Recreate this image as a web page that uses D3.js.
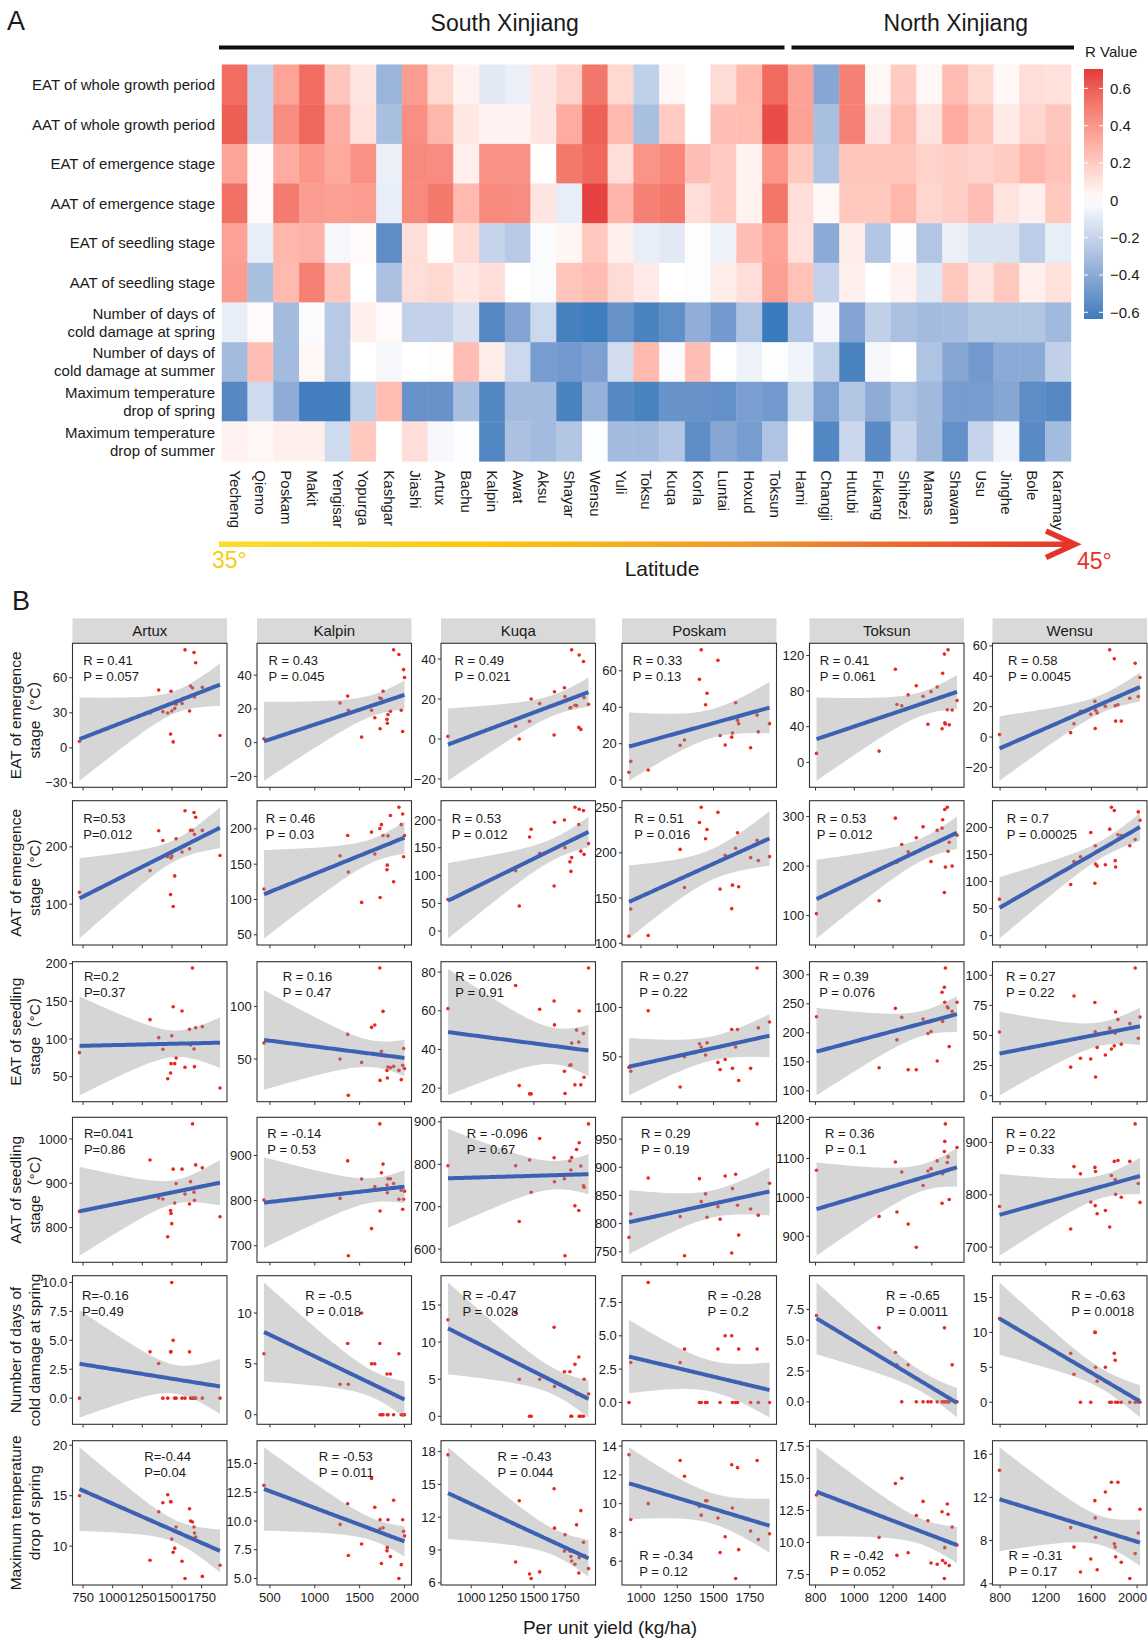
<!DOCTYPE html>
<html>
<head>
<meta charset="utf-8">
<script src="https://cdn.jsdelivr.net/npm/d3@7"></script>
<style>
  body { margin: 0; background: #fff; }
  svg { display: block; }
  text { font-family: "Liberation Sans", Arial, "Noto Sans CJK SC", sans-serif; fill: #1a1a1a; }
</style>
</head>
<body>
<svg id="fig" width="1148" height="1640"></svg>
<script>
// ================= Panel A data: correlation (R) of yield with climate indices =================
const sites = ["Yecheng","Qiemo","Poskam","Makit","Yengisar","Yopurga","Kashgar","Jiashi","Artux","Bachu",
  "Kalpin","Awat","Aksu","Shayar","Wensu","Yuli","Toksu","Kuqa","Korla","Luntai","Hoxud","Toksun",
  "Hami","Changji","Hutubi","Fukang","Shihezi","Manas","Shawan","Usu","Jinghe","Bole","Karamay"];

const traitLabels = [
  ["EAT of whole growth period"],
  ["AAT of whole growth period"],
  ["EAT of emergence stage"],
  ["AAT of emergence stage"],
  ["EAT of seedling stage"],
  ["AAT of seedling stage"],
  ["Number of days of", "cold damage at spring"],
  ["Number of days of", "cold damage at summer"],
  ["Maximum temperature", "drop of spring"],
  ["Maximum temperature", "drop of summer"]
];

const rEatWhole     = [0.55,-0.2,0.35,0.55,0.22,0.1,-0.35,0.38,0.15,0.05,-0.1,-0.07,0.1,0.17,0.52,0.15,-0.22,0.03,0.0,0.14,0.27,0.56,0.36,-0.42,0.48,0.03,0.2,0.03,0.26,0.15,0.03,0.13,0.12];
const rAatWhole     = [0.6,-0.2,0.44,0.57,0.32,0.12,-0.3,0.43,0.28,0.09,0.05,0.05,0.1,0.32,0.59,0.27,-0.3,0.2,0.0,0.25,0.26,0.65,0.36,-0.3,0.48,0.1,0.26,0.11,0.32,0.22,0.08,0.16,0.22];
const rEatEmergence = [0.35,0.02,0.32,0.4,0.33,0.42,-0.07,0.45,0.44,0.06,0.42,0.42,0.0,0.51,0.57,0.13,0.41,0.46,0.25,0.2,0.05,0.4,0.21,-0.28,0.22,0.22,0.22,0.17,0.19,0.17,0.2,0.28,0.24];
const rAatEmergence = [0.54,0.02,0.5,0.38,0.37,0.38,-0.08,0.45,0.51,0.27,0.45,0.44,0.1,-0.08,0.68,0.29,0.48,0.51,0.13,0.2,0.05,0.52,0.13,0.03,0.21,0.21,0.28,0.16,0.19,0.25,0.11,0.06,0.21];
const rEatSeedling  = [0.36,-0.08,0.28,0.3,-0.03,0.02,-0.55,0.13,0.01,0.14,-0.2,-0.25,-0.02,0.04,0.21,0.06,-0.08,-0.1,0.01,-0.06,0.25,0.35,0.12,-0.4,0.07,-0.27,-0.01,-0.27,-0.07,-0.13,-0.13,-0.23,-0.08];
const rAatSeedling  = [0.38,-0.3,0.27,0.48,0.22,0.0,-0.29,0.13,0.15,0.09,0.13,0.0,-0.02,0.23,0.26,0.14,0.08,0.0,-0.01,0.07,0.13,0.37,0.24,-0.21,0.06,0.0,0.05,-0.11,0.21,0.1,0.21,0.06,0.12];
const rColdSpring   = [-0.08,0.02,-0.32,-0.02,-0.25,0.06,0.02,-0.21,-0.21,-0.14,-0.57,-0.43,-0.18,-0.61,-0.63,-0.52,-0.6,-0.54,-0.38,-0.48,-0.28,-0.65,-0.28,-0.03,-0.43,-0.22,-0.29,-0.32,-0.31,-0.27,-0.27,-0.27,-0.33];
const rColdSummer   = [-0.32,0.25,-0.32,0.03,-0.25,0.0,-0.03,0.0,0.01,0.25,0.07,-0.18,-0.47,-0.48,-0.45,-0.16,0.27,-0.02,0.25,0.0,-0.06,-0.01,-0.05,-0.22,-0.6,-0.03,0.0,-0.28,-0.42,-0.48,-0.4,-0.4,-0.22];
const rDropSpring   = [-0.57,-0.17,-0.39,-0.62,-0.62,-0.22,0.26,-0.52,-0.52,-0.3,-0.58,-0.32,-0.32,-0.6,-0.37,-0.57,-0.6,-0.52,-0.52,-0.53,-0.46,-0.48,-0.19,-0.44,-0.27,-0.39,-0.28,-0.33,-0.47,-0.47,-0.42,-0.55,-0.57];
const rDropSummer   = [0.05,0.03,0.06,0.06,-0.17,0.21,0.0,0.13,-0.03,-0.01,-0.58,-0.29,-0.32,-0.27,-0.01,-0.32,-0.32,-0.27,-0.55,-0.42,-0.47,-0.28,0.0,-0.58,-0.19,-0.56,-0.2,-0.33,-0.53,-0.2,-0.05,-0.56,-0.32];

const regions = [
  { name: "South Xinjiang", first: 0,  last: 21 },
  { name: "North Xinjiang", first: 22, last: 32 }
];
const legendTicks = [0.6, 0.4, 0.2, 0, -0.2, -0.4, -0.6];
const latitudeEnds = ["35°", "45°"];

// ================= Panel B data: per unit yield (kg/ha) vs climate indices =================
const stations = ["Artux", "Kalpin", "Kuqa", "Poskam", "Toksun", "Wensu"];

const yieldArtux  = [720,1315,1388,1423,1464,1488,1492,1498,1510,1523,1535,1585,1610,1648,1657,1673,1686,1690,1700,1756,1905];
const yieldKalpin = [434,1282,1367,1374,1522,1633,1669,1725,1728,1743,1761,1805,1809,1816,1843,1879,1938,1964,1980,1990,2000];
const yieldKuqa   = [815,1354,1383,1465,1478,1546,1661,1664,1743,1748,1787,1795,1801,1827,1840,1858,1861,1874,1895,1900,1935];
const yieldPoskam = [918,930,1050,1270,1300,1403,1415,1445,1455,1530,1545,1580,1625,1630,1652,1665,1673,1755,1800,1808,1885];
const yieldToksun = [805,1128,1212,1220,1245,1278,1320,1355,1380,1396,1428,1453,1456,1465,1467,1470,1480,1484,1490,1505,1530];
const yieldWensu  = [795,1418,1447,1504,1594,1630,1633,1636,1650,1722,1760,1775,1800,1808,1812,1832,1861,1936,1983,2010,2025];

// rows: EAT emergence, AAT emergence, EAT seedling, AAT seedling, cold-damage days (spring), max temperature drop (spring)
const artuxIdx = [
  [5.6,29.8,49.5,31,29.8,11.8,48.4,31.5,5.1,33.8,37.4,38,83.9,31.5,52.9,51.2,81.6,43.6,72.9,51.8,10.6],
  [120.7,158.6,228,211,182.8,116.7,180.5,184,96,149.4,214,191,263,196.6,228.7,228.7,260,221.8,251.7,228.7,185],
  [81.9,125.7,101.8,86.3,47.3,54.9,67.3,104.4,142.9,67.3,74.8,137.2,62.4,112.8,92,194.2,86.7,63.3,115,116.4,35],
  [836.3,952.6,866.7,864.4,779.3,838.5,831.9,808.9,931.9,855.6,899.3,931.9,875.6,853.3,903.7,1034,880,861.5,941.5,934.8,824.4],
  [0,4,3,0,0,4,4,10,5,0,0,0,0,4,0,0,0,0,0,0,0],
  [15.0,8.6,13.4,14.3,15.1,14.4,14.4,10.7,9.4,9.8,11.9,8.5,6.8,13.7,12.5,12.4,11.9,11.3,10.9,7.0,8.1]
];
const kalpinIdx = [
  [2.3,23.5,27.6,19.2,3.3,19.2,14.8,26.4,8.2,26,30.5,13.8,11.5,16.7,18.6,55,52.2,19.2,6.6,43.3,38.6],
  [114.8,162,190.7,138.9,95.8,195.4,164.4,200.5,102.8,206,190.7,142,148.6,190,219,125,230.6,206,221,160.6,190.7],
  [65.2,50,73.4,15.5,46.8,80.1,82.3,136.4,29.7,57.3,95.3,39.2,32,42.4,41.8,43,39.2,30.4,44,60,41],
  [801.5,805,888,678,847.8,738,831,970,777,861.8,880.9,834.6,817.6,848.5,848.5,838,803,823,781,803,821],
  [6,3,7,3,10,5,5,7,0,0,0,4,0,0,4,0,6,0,0,0,0],
  [13.1,9.7,11.5,7.0,8.0,13.7,11.2,9.3,10.1,6.3,9.4,7.4,7.7,10.1,6.9,11.8,5.0,6.2,10.1,9.1,8.7]
];
const kuqaIdx = [
  [1.3,6.4,0,8.9,20,17.7,2,23.6,25.6,21.2,15.5,15.7,44.6,16.9,16.7,5.8,42,4.8,38.8,20.7,17.4],
  [57,108.8,45.3,169.4,183.5,140,81.2,195.9,200,150,124.7,107.6,132.4,223,167,191.8,219.4,144,217,138.2,157.6],
  [61.1,73.1,21.3,17,17,60.8,65.1,52.7,28.7,17.2,31.8,32,43.3,21.7,50,43.8,59.9,21.7,48.3,25.6,82.1],
  [796.6,796.6,665,810,734,861,815.4,759,766,584.4,807.6,786.5,816,702,835,691,850.7,796,749,746,895.3],
  [13,14,5,0,0,5,12,4,6,4,6,0,0,7,3,8,0,0,0,5,3],
  [17.7,7.9,13.5,6.8,6.4,7.0,14.6,11.0,8.9,10.4,8.9,8.4,8.0,7.7,11.3,6.9,8.3,12.6,9.7,8.5,7.3]
];
const poskamIdx = [
  [4.3,10.3,5.6,19.1,22,55.3,71.5,41.4,47.7,65.8,24.5,19.3,23.6,25.9,42.5,32.8,31,17.8,35.7,26.5,31],
  [107.9,137.9,108.6,203.8,161.7,233.5,250.4,215.6,225.8,244.9,159.9,197.3,138.3,164.3,205,222.2,162.5,194.7,214,191.4,195.8],
  [39.3,35.3,96.7,19.3,50,63.3,60,51.7,64.3,44.3,37,47.3,77.7,38.3,60,77.7,26,38.3,140,79.3,85.3],
  [775.5,817.3,881,812.6,743,879.8,839,852.7,811.4,830,807.9,884.6,747.8,862.1,887.5,832.7,779.6,826,977,815,871.6],
  [0,3,9,3,4,0,0,0,0,4,0,5,5,0,0,0,4,0,4,0,0],
  [13.4,8.9,10,13,11.9,9.8,9.2,10.2,10.2,9,6.6,7.7,12.7,9.7,4.8,12.5,6.8,8.1,13,7.5,7.9]
];
const toksunIdx = [
  [10,12.6,104.5,65,63.5,75.7,86,74.2,42.8,79.4,84.6,37.7,100,121.5,44.3,43,59,126.3,42.1,58.7,69.4],
  [103.9,129.9,296.8,207.8,243.5,228.6,257.1,279.2,240.9,209.1,272.1,276.6,293.5,146.8,314.3,198,318.8,229.9,248,200,262.3],
  [227.7,139.9,242.2,187.9,226.6,136.4,136.4,223.7,198.8,202.3,151.4,269.9,219.7,278.6,252.6,311.6,245,242.8,176.3,237,252.6],
  [1069.5,951,1091,962.3,1065,931.2,871.6,1030.6,1067.8,1073.8,1093.7,984.8,1060.8,1117.9,1143.8,1188.8,1089.4,1104,994.3,1072.9,1128.3],
  [7,6,4,3,0,3,0,0,0,0,0,0,0,6,0,0,0,0,0,3,0],
  [13.7,10.4,14.6,9.0,15.0,9.2,12.1,13.2,11.7,8.4,8.3,12.4,8.6,7.2,9.6,8.4,13.0,12.2,8.2,11.2,9.8]
];
const wensuIdx = [
  [1.6,2.9,8.7,17,15,23.5,5.6,17.7,15.9,20.2,57.4,25,51.5,20.6,10.5,21.3,10.5,25.5,48.6,26.7,39.2],
  [67.5,94.5,136.8,146,190.8,96.9,166.3,132.5,128.8,131,196.9,237.4,231.3,138.7,127,186.5,185,166.3,177.9,228.8,213.5],
  [52.9,23.7,82.8,31.1,30.5,77.4,53.1,15.5,40.1,33.8,56.1,38.7,41.4,52,69.5,63.2,42.8,59.9,106,47.7,65.4],
  [777.7,734.6,853.8,840,786.2,852.3,779.2,844.6,763.8,770,738.5,836.9,863.8,829.2,800.8,865.4,795.4,863.8,935.4,821.5,785.4],
  [12,7,4,0,0,10,10,5,3,5,0,0,7,6,0,0,0,0,0,0,0],
  [14.5,9.2,7.4,5.1,6.3,11.7,10.1,8.3,5.3,12.5,10.9,13.4,7.7,7.4,6.5,13.4,6.0,4.5,6.8,8.7,10.9]
];

const indexTitles = [
  ["EAT of emergence", "stage（°C）"],
  ["AAT of emergence", "stage（°C）"],
  ["EAT of seedling", "stage（°C）"],
  ["AAT of seedling", "stage（°C）"],
  ["Number of days of", "cold damage at spring"],
  ["Maximum temperature", "drop of spring"]
];

const xTickValues = [[750,1000,1250,1500,1750],[500,1000,1500,2000],[1000,1250,1500,1750],
                     [1000,1250,1500,1750],[800,1000,1200,1400],[800,1200,1600,2000]];
const yTickValues = [
  [[-30,0,30,60],[-20,0,20,40],[-20,0,20,40],[0,20,40,60],[0,40,80,120],[-20,0,20,40,60]],
  [[100,200],[50,100,150,200],[0,50,100,150,200],[100,150,200,250],[100,200,300],[0,50,100,150,200]],
  [[50,100,150,200],[50,100],[20,40,60,80],[50,100],[100,150,200,250,300],[0,25,50,75,100]],
  [[800,900,1000],[700,800,900],[600,700,800,900],[750,800,850,900,950],[900,1000,1100,1200],[700,800,900]],
  [[0,2.5,5,7.5,10],[0,5,10],[0,5,10,15],[0,2.5,5,7.5],[0,2.5,5,7.5],[0,5,10,15]],
  [[10,15,20],[5,7.5,10,12.5,15],[6,9,12,15,18],[6,8,10,12,14],[7.5,10,12.5,15,17.5],[4,8,12,16]]
];

const statText = [
  [["R = 0.41","P = 0.057"],["R = 0.43","P = 0.045"],["R = 0.49","P = 0.021"],["R = 0.33","P = 0.13"],["R = 0.41","P = 0.061"],["R = 0.58","P = 0.0045"]],
  [["R=0.53","P=0.012"],["R = 0.46","P = 0.03"],["R = 0.53","P = 0.012"],["R = 0.51","P = 0.016"],["R = 0.53","P = 0.012"],["R = 0.7","P = 0.00025"]],
  [["R=0.2","P=0.37"],["R = 0.16","P = 0.47"],["R = 0.026","P = 0.91"],["R = 0.27","P = 0.22"],["R = 0.39","P = 0.076"],["R = 0.27","P = 0.22"]],
  [["R=0.041","P=0.86"],["R = -0.14","P = 0.53"],["R = -0.096","P = 0.67"],["R = 0.29","P = 0.19"],["R = 0.36","P = 0.1"],["R = 0.22","P = 0.33"]],
  [["R=-0.16","P=0.49"],["R = -0.5","P = 0.018"],["R = -0.47","P = 0.028"],["R = -0.28","P = 0.2"],["R = -0.65","P = 0.0011"],["R = -0.63","P = 0.0018"]],
  [["R=-0.44","P=0.04"],["R = -0.53","P = 0.011"],["R = -0.43","P = 0.044"],["R = -0.34","P = 0.12"],["R = -0.42","P = 0.052"],["R = -0.31","P = 0.17"]]
];

// ================= layout =================
const W = 1148, H = 1640;
const svg = d3.select("#fig");
svg.append("rect").attr("width", W).attr("height", H).attr("fill", "#fff");
const defs = svg.append("defs");

const FONT = 15;
const rMatrix = [rEatWhole, rAatWhole, rEatEmergence, rAatEmergence, rEatSeedling, rAatSeedling,
                 rColdSpring, rColdSummer, rDropSpring, rDropSummer];

const hm = { left: 222, right: 1071, top: 64.8, bottom: 461.3 };
const xBand = d3.scaleBand().domain(sites).range([hm.left, hm.right]);
const yBand = d3.scaleBand().domain(d3.range(traitLabels.length)).range([hm.top, hm.bottom]);
const legendDomain = [-0.636, 0.704];
const heatColor = d3.scaleLinear()
  .domain([-0.64, 0, 0.71])
  .range(["#3a7bbd", "#ffffff", "#e3363a"])
  .interpolate(d3.interpolateLab)
  .clamp(true);

// panel letter
svg.append("text").attr("x", 7).attr("y", 30).attr("font-size", 27).text("A");

// region headers with black bars
const regionLabelDx = [3, 23];
regions.forEach((g, i) => {
  const x0 = xBand(sites[g.first]), x1 = xBand(sites[g.last]) + xBand.bandwidth();
  const bx0 = i === 0 ? x0 - 3 : x0 + 3.5;
  const bx1 = i === 0 ? x1 - 3.5 : x1 + 3;
  svg.append("line").attr("x1", bx0).attr("x2", bx1).attr("y1", 47.5).attr("y2", 47.5)
    .attr("stroke", "#111").attr("stroke-width", 4);
  svg.append("text").attr("x", (bx0 + bx1) / 2 + regionLabelDx[i]).attr("y", 31)
    .attr("text-anchor", "middle").attr("font-size", 23).text(g.name);
});

// tiles
const tiles = svg.append("g");
rMatrix.forEach((vals, i) => {
  vals.forEach((v, j) => {
    tiles.append("rect")
      .attr("x", xBand(sites[j])).attr("y", yBand(i))
      .attr("width", xBand.bandwidth()).attr("height", yBand.bandwidth())
      .attr("fill", heatColor(v)).attr("stroke", heatColor(v)).attr("stroke-width", 0.4);
  });
});

// row labels
traitLabels.forEach((lines, i) => {
  const cy = yBand(i) + yBand.bandwidth() / 2;
  const t = svg.append("text").attr("text-anchor", "end").attr("font-size", FONT);
  lines.forEach((ln, k) => {
    const off = (k - (lines.length - 1) / 2) * 18;
    t.append("tspan").attr("x", 215).attr("y", cy + off).attr("dy", "0.35em").text(ln);
  });
});

// column labels (rotated, reading top to bottom)
sites.forEach(s => {
  svg.append("text")
    .attr("transform", `translate(${xBand(s) + xBand.bandwidth() / 2},${hm.bottom + 9}) rotate(90)`)
    .attr("dy", "0.35em").attr("font-size", FONT).text(s);
});

// colour bar legend
const lg = { x: 1084, w: 19, top: 69, bottom: 319 };
const legendY = d3.scaleLinear().domain(legendDomain).range([lg.bottom, lg.top]);
const cbGrad = defs.append("linearGradient").attr("id", "cbar")
  .attr("x1", 0).attr("x2", 0).attr("y1", 1).attr("y2", 0);
d3.range(0, 1.0001, 0.05).forEach(f => {
  const v = legendDomain[0] + f * (legendDomain[1] - legendDomain[0]);
  cbGrad.append("stop").attr("offset", f).attr("stop-color", heatColor(v));
});
svg.append("rect").attr("x", lg.x).attr("y", lg.top).attr("width", lg.w)
  .attr("height", lg.bottom - lg.top).attr("fill", "url(#cbar)");
svg.append("text").attr("x", 1085).attr("y", 57).attr("font-size", FONT).text("R Value");
legendTicks.forEach(v => {
  const y = legendY(v);
  svg.append("line").attr("x1", lg.x).attr("x2", lg.x + 4).attr("y1", y).attr("y2", y)
    .attr("stroke", "#fff").attr("stroke-width", 1);
  svg.append("line").attr("x1", lg.x + lg.w - 4).attr("x2", lg.x + lg.w).attr("y1", y).attr("y2", y)
    .attr("stroke", "#fff").attr("stroke-width", 1);
  svg.append("text").attr("x", 1110).attr("y", y).attr("dy", "0.35em").attr("font-size", FONT)
    .text(v === 0 ? "0" : (v < 0 ? "\u2212" : "") + Math.abs(v).toFixed(1));
});

// latitude arrow
const latGrad = defs.append("linearGradient").attr("id", "lat")
  .attr("gradientUnits", "userSpaceOnUse").attr("x1", 219).attr("x2", 1075).attr("y1", 0).attr("y2", 0);
[[0, "#f8de30"], [0.3, "#fbc80b"], [0.62, "#f0962c"], [1, "#e5352b"]].forEach(([o, c]) =>
  latGrad.append("stop").attr("offset", o).attr("stop-color", c));
svg.append("rect").attr("x", 219).attr("y", 541.5).attr("width", 852).attr("height", 5.5).attr("fill", "url(#lat)");
svg.append("path").attr("d", "M1046,531 L1075,544.2 L1046,557.5")
  .attr("fill", "none").attr("stroke", "#e5352b").attr("stroke-width", 5.5).attr("stroke-linejoin", "miter");
svg.append("text").attr("x", 212).attr("y", 568).attr("font-size", 23).style("fill", "#f5cf14").text(latitudeEnds[0]);
svg.append("text").attr("x", 1077).attr("y", 569).attr("font-size", 23).style("fill", "#e5352b").text(latitudeEnds[1]);
svg.append("text").attr("x", 662).attr("y", 576).attr("text-anchor", "middle").attr("font-size", 21).text("Latitude");

// ================= Panel B =================
svg.append("text").attr("x", 12).attr("y", 610).attr("font-size", 27).text("B");

const yieldsBy = [yieldArtux, yieldKalpin, yieldKuqa, yieldPoskam, yieldToksun, yieldWensu];
const indexBy  = [artuxIdx, kalpinIdx, kuqaIdx, poskamIdx, toksunIdx, wensuIdx];

const colX = [72.5, 257, 441, 622, 809.5, 992.5];
const panelW = 154.5;
const rowTop = [643.3, 800.7, 961.7, 1117.3, 1275.7, 1440.7];
const rowBot = [787.3, 945, 1101.7, 1262.3, 1424.3, 1585];
const stripH = 25;
// stat label anchors: [fraction across panel, fraction down panel] for the first line
const statPos = [
  [[0.069,0.121],[0.075,0.121],[0.088,0.121],[0.069,0.121],[0.067,0.121],[0.100,0.121]],
  [[0.070,0.122],[0.056,0.122],[0.069,0.122],[0.080,0.122],[0.047,0.122],[0.092,0.122]],
  [[0.074,0.102],[0.166,0.102],[0.093,0.102],[0.112,0.102],[0.063,0.102],[0.087,0.102]],
  [[0.074,0.110],[0.067,0.110],[0.166,0.110],[0.123,0.110],[0.100,0.110],[0.087,0.110]],
  [[0.062,0.135],[0.312,0.135],[0.139,0.135],[0.553,0.135],[0.495,0.135],[0.510,0.135]],
  [[0.465,0.111],[0.400,0.111],[0.366,0.111],[0.112,0.792],[0.132,0.792],[0.104,0.792]]
];

// two-sided 95% t quantile (Cornish-Fisher expansion)
function tQuant(df) {
  const z = 1.959964;
  const g1 = (z ** 3 + z) / 4;
  const g2 = (5 * z ** 5 + 16 * z ** 3 + 3 * z) / 96;
  const g3 = (3 * z ** 7 + 19 * z ** 5 + 17 * z ** 3 - 15 * z) / 384;
  return z + g1 / df + g2 / df ** 2 + g3 / df ** 3;
}

// least-squares line with 95% confidence band, evaluated over the data range
function linearSmooth(xs, ys) {
  const n = xs.length, mx = d3.mean(xs), my = d3.mean(ys);
  let sxx = 0, sxy = 0;
  xs.forEach((x, i) => { sxx += (x - mx) ** 2; sxy += (x - mx) * (ys[i] - my); });
  const b = sxy / sxx, a = my - b * mx;
  let sse = 0;
  xs.forEach((x, i) => { sse += (ys[i] - a - b * x) ** 2; });
  const s = Math.sqrt(sse / (n - 2)), t = tQuant(n - 2);
  const [x0, x1] = d3.extent(xs);
  return d3.range(80).map(k => {
    const x = x0 + (x1 - x0) * k / 79;
    const f = a + b * x;
    const h = t * s * Math.sqrt(1 / n + (x - mx) ** 2 / sxx);
    return { x, f, lo: f - h, hi: f + h };
  });
}

function expand(ext) {
  const d = (ext[1] - ext[0]) * 0.05;
  return [ext[0] - d, ext[1] + d];
}

function tickFormatter(ticks) {
  const dec = ticks.some(t => !Number.isInteger(t)) ? 1 : 0;
  return t => (t < 0 ? "\u2212" : "") + Math.abs(t).toFixed(dec);
}

const TICK = 3.2, AXIS_FONT = 13;

stations.forEach((st, c) => {
  const x0 = colX[c], x1 = x0 + panelW;
  // facet strip
  svg.append("rect").attr("x", x0).attr("y", rowTop[0] - stripH).attr("width", panelW).attr("height", stripH)
    .attr("fill", "#d9d9d9");
  svg.append("text").attr("x", (x0 + x1) / 2).attr("y", rowTop[0] - stripH / 2).attr("dy", "0.35em")
    .attr("text-anchor", "middle").attr("font-size", 15).text(st);

  const xs = yieldsBy[c];
  const xScale = d3.scaleLinear().domain(expand(d3.extent(xs))).range([x0, x1]);

  indexBy[c].forEach((ys, r) => {
    const top = rowTop[r], bot = rowBot[r];
    const fit = linearSmooth(xs, ys);
    const yExt = d3.extent([...ys, ...fit.map(d => d.lo), ...fit.map(d => d.hi)]);
    const yDom = expand(yExt);
    const yScale = d3.scaleLinear().domain(yDom).range([bot, top]);
    const g = svg.append("g");

    g.append("rect").attr("x", x0).attr("y", top).attr("width", panelW).attr("height", bot - top).attr("fill", "#fff");

    // observations
    g.selectAll("circle.obs").data(ys).join("circle")
      .attr("cx", (d, i) => xScale(xs[i])).attr("cy", d => yScale(d))
      .attr("r", 1.8).attr("fill", "#e8251f");

    // confidence band and fitted line
    g.append("path").datum(fit)
      .attr("d", d3.area().x(d => xScale(d.x)).y0(d => yScale(d.lo)).y1(d => yScale(d.hi)))
      .attr("fill", "#999999").attr("fill-opacity", 0.4);
    g.append("path").datum(fit)
      .attr("d", d3.line().x(d => xScale(d.x)).y(d => yScale(d.f)))
      .attr("fill", "none").attr("stroke", "#3c61b3").attr("stroke-width", 4);

    // panel border
    g.append("rect").attr("x", x0).attr("y", top).attr("width", panelW).attr("height", bot - top)
      .attr("fill", "none").attr("stroke", "#333").attr("stroke-width", 1.1);

    // y axis
    const yt = yTickValues[r][c].filter(v => v >= yDom[0] - 1e-9 && v <= yDom[1] + 1e-9);
    const yf = tickFormatter(yTickValues[r][c]);
    yt.forEach(v => {
      const y = yScale(v);
      g.append("line").attr("x1", x0 - TICK).attr("x2", x0).attr("y1", y).attr("y2", y)
        .attr("stroke", "#333").attr("stroke-width", 1);
      g.append("text").attr("x", x0 - TICK - 2).attr("y", y).attr("dy", "0.35em")
        .attr("text-anchor", "end").attr("font-size", AXIS_FONT).text(yf(v));
    });

    // x axis ticks (labels on bottom row only)
    const xf = tickFormatter(xTickValues[c]);
    xTickValues[c].forEach(v => {
      const x = xScale(v);
      g.append("line").attr("x1", x).attr("x2", x).attr("y1", bot).attr("y2", bot + TICK)
        .attr("stroke", "#333").attr("stroke-width", 1);
      if (r === rowTop.length - 1) {
        const lbl = g.append("text").attr("x", x).attr("y", bot + TICK + 14).attr("text-anchor", "middle")
          .attr("font-size", AXIS_FONT).text(xf(v));
        // keep the last label inside the canvas
        const bb = lbl.node().getBBox();
        if (bb.x + bb.width > W - 1) lbl.attr("x", x - (bb.x + bb.width - (W - 1)));
      }
    });

    // R / P annotation
    const [fx, fy] = statPos[r][c];
    const ax = x0 + fx * panelW, ay = top + fy * (bot - top);
    statText[r][c].forEach((s, k) => {
      g.append("text").attr("x", ax).attr("y", ay + k * 16).attr("dy", "0.35em")
        .attr("font-size", AXIS_FONT).text(s);
    });
  });
});

// y axis titles (one per row)
indexTitles.forEach((lines, r) => {
  const cy = (rowTop[r] + rowBot[r]) / 2;
  [16, 35].forEach((cx, k) => {
    svg.append("text").attr("transform", `translate(${cx},${cy}) rotate(-90)`)
      .attr("dy", "0.35em").attr("text-anchor", "middle").attr("font-size", 15.5).text(lines[k]);
  });
});

// shared x axis title
svg.append("text").attr("x", 610).attr("y", 1634).attr("text-anchor", "middle").attr("font-size", 19)
  .text("Per unit yield (kg/ha)");
</script>
</body>
</html>
